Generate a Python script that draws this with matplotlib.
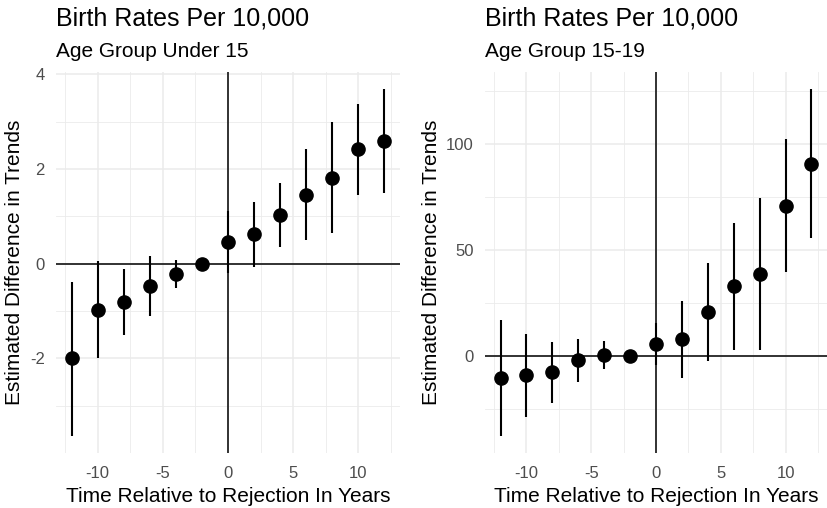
import matplotlib.pyplot as plt
from matplotlib.ticker import MultipleLocator
import numpy as np

plt.rcParams['font.family'] = ['Liberation Sans', 'DejaVu Sans']
plt.rcParams['axes.unicode_minus'] = False

# years relative to rejection
years = [-12, -10, -8, -6, -4, -2, 0, 2, 4, 6, 8, 10, 12]

# age group under 15
u15_est = [-1.99, -0.98, -0.81, -0.47, -0.22, 0, 0.46, 0.62, 1.02, 1.46, 1.81, 2.41, 2.58]
u15_lo = [-3.63, -1.99, -1.51, -1.10, -0.52, 0, -0.20, -0.06, 0.35, 0.51, 0.64, 1.46, 1.49]
u15_hi = [-0.38, 0.06, -0.11, 0.17, 0.08, 0, 1.12, 1.31, 1.71, 2.41, 2.98, 3.36, 3.68]

# age group 15-19
a15_est = [-10.2, -9.2, -7.7, -2.1, 0.5, 0, 5.5, 7.8, 20.7, 32.9, 38.6, 70.7, 90.6]
a15_lo = [-37.6, -29.0, -22.4, -12.2, -6.0, 0, -4.4, -10.3, -2.5, 3.0, 3.0, 39.4, 55.7]
a15_hi = [17.2, 10.5, 6.6, 8.1, 6.9, 0, 15.5, 26.0, 43.8, 62.9, 74.5, 102.3, 125.8]

title = 'Birth Rates Per 10,000'
subtitles = ['Age Group Under 15', 'Age Group 15-19']
xlab = 'Time Relative to Rejection In Years'
ylab = 'Estimated Difference in Trends'

fig = plt.figure(figsize=(8.28, 5.08), dpi=100)
ax1 = fig.add_axes([56/828, 55/508, 344/828, 381/508])
ax2 = fig.add_axes([485/828, 55/508, 342/828, 381/508])

panels = [
    (ax1, u15_est, u15_lo, u15_hi, [-2, 0, 2, 4], 1, subtitles[0]),
    (ax2, a15_est, a15_lo, a15_hi, [0, 50, 100], 25, subtitles[1]),
]

for ax, est, lo, hi, yt, ymin_step, sub in panels:
    est = np.array(est)
    err = [est - np.array(lo), np.array(hi) - est]
    ax.axhline(0, color='black', lw=1.1, zorder=2)
    ax.axvline(0, color='black', lw=1.1, zorder=2)
    ax.errorbar(years, est, yerr=err, fmt='o', color='black', ms=9.5,
                elinewidth=1.5, capsize=0, zorder=3)
    ax.set_xlim(-13.2, 13.2)
    ax.margins(y=0.05)
    ax.set_xticks([-10, -5, 0, 5, 10])
    ax.set_yticks(yt)
    ax.xaxis.set_minor_locator(MultipleLocator(2.5))
    ax.yaxis.set_minor_locator(MultipleLocator(ymin_step))
    ax.grid(which='major', color='#EBEBEB', lw=1.1)
    ax.grid(which='minor', color='#EBEBEB', lw=0.6)
    ax.set_axisbelow(True)
    for s in ax.spines.values():
        s.set_visible(False)
    ax.tick_params(which='both', length=0, labelsize=12, labelcolor='#4D4D4D')
    ax.tick_params(axis='y', pad=8)
    ax.tick_params(axis='x', pad=9)
    ax.set_xlabel(xlab, fontsize=15, labelpad=5)
    ax.set_ylabel(ylab, fontsize=15, labelpad=4)
    ax.text(0, 1.121, title, transform=ax.transAxes, fontsize=18,
            va='baseline', ha='left')
    ax.text(0, 1.040, sub, transform=ax.transAxes, fontsize=15,
            va='baseline', ha='left')

fig.savefig('out.png', dpi=100)
